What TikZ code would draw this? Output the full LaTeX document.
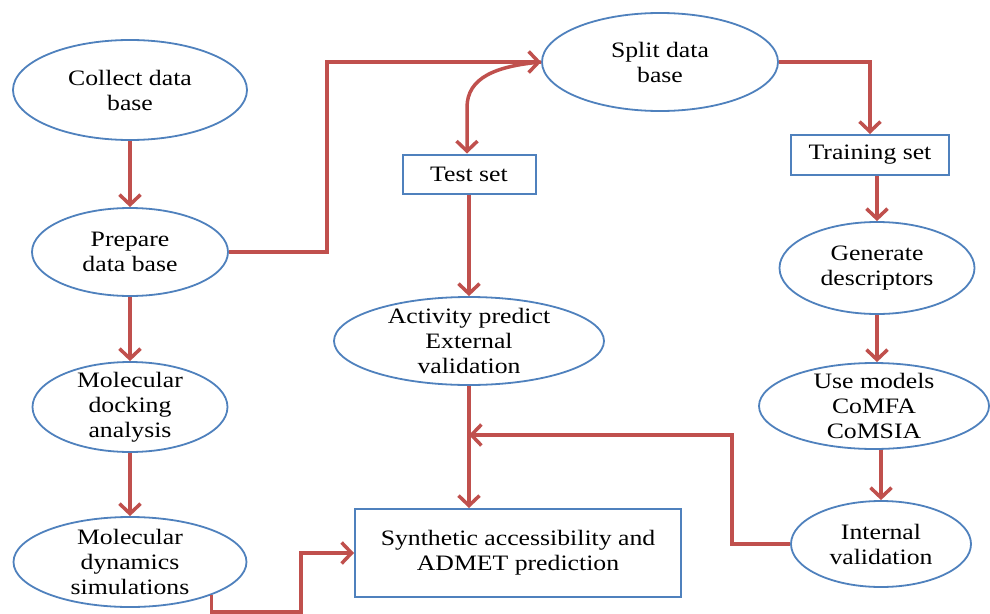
\documentclass[tikz,border=0pt]{standalone}
\usepackage{fontspec}
\setmainfont{Liberation Serif}[FakeStretch=1.17]
\usetikzlibrary{shapes.geometric,arrows.meta,calc}
\definecolor{myblue}{RGB}{79,129,189}
\definecolor{myred}{RGB}{192,80,77}
\tikzset{
  ell/.style={ellipse, draw=myblue, line width=1.8pt, inner sep=-15pt, align=center,
    font=\fontsize{22}{25}\selectfont, text=black},
  boxnode/.style={rectangle, draw=myblue, line width=2pt, inner sep=0pt, align=center,
    font=\fontsize{22}{25}\selectfont, text=black},
  arr/.style={draw=myred, line width=3.5pt, -{Straight Barb[length=10pt,width=21pt]}}
}
\begin{document}
\begin{tikzpicture}[x=1pt,y=-1pt]
\clip (0,0) rectangle (990,613);
\fill[white] (0,0) rectangle (990,613);

% left column
\node[ell, minimum width=234pt, minimum height=100pt] (collect) at (130,90) {Collect data\\base};
\node[ell, minimum width=196pt, minimum height=88pt] (prepare) at (130,252) {Prepare\\data base};
\node[ell, minimum width=195pt, minimum height=90pt] (docking) at (130,407) {Molecular\\docking\\analysis};
\node[ell, minimum width=233pt, minimum height=90pt] (dynamics) at (130,562) {Molecular\\dynamics\\simulations};

% middle
\node[ell, minimum width=236pt, minimum height=98pt] (split) at (660,62) {Split data\\base};
\node[boxnode, minimum width=133pt, minimum height=39pt] (test) at (469,174) {Test set};
\node[ell, minimum width=270pt, minimum height=88pt] (activity) at (469,341) {Activity predict\\External\\validation};
\node[boxnode, minimum width=326pt, minimum height=88pt] (synth) at (518,553) {Synthetic accessibility and\\ADMET prediction};

% right column
\node[boxnode, minimum width=158pt, minimum height=40pt] (training) at (870,155) {Training set};
\node[ell, minimum width=195pt, minimum height=92pt] (generate) at (877,268) {Generate\\descriptors};
\node[ell, minimum width=230pt, minimum height=86pt] (usemodels) at (874,406) {Use models\\CoMFA\\CoMSIA};
\node[ell, minimum width=180pt, minimum height=86pt] (internal) at (881,544) {Internal\\validation};

\coordinate (join) at (469,435);
\coordinate (bot) at (0,612);

% connectors
\draw[arr] (collect.south) -- (prepare.north);
\draw[arr] (prepare.south) -- (docking.north);
\draw[arr] (docking.south) -- (dynamics.north);
\draw[arr] (prepare.east) -- ++(98,0) |- (split.west);
\draw[arr] (split.west) .. controls +(-45,4) and +(0,-30) .. ($(test.north)+(-2,-46)$) -- ($(test.north)+(-2,0)$);
\draw[arr] (split.east) -| (training.north);
\draw[arr] (training.south -| generate.north) -- (generate.north);
\draw[arr] (generate.south) -- (generate.south |- usemodels.north);
\draw[arr] (usemodels.south -| internal.north) -- (internal.north);
\draw[arr] (test.south -| activity.north) -- (activity.north);
\draw[arr] (activity.south) -- (activity.south |- synth.north);
\draw[arr] (internal.west) -- ++(-58,0) |- (join);
\draw[arr] (dynamics.-22) -- (dynamics.-22 |- bot) -| ($(synth.west)+(-53,0)$) -- (synth.west);
\end{tikzpicture}
\end{document}
